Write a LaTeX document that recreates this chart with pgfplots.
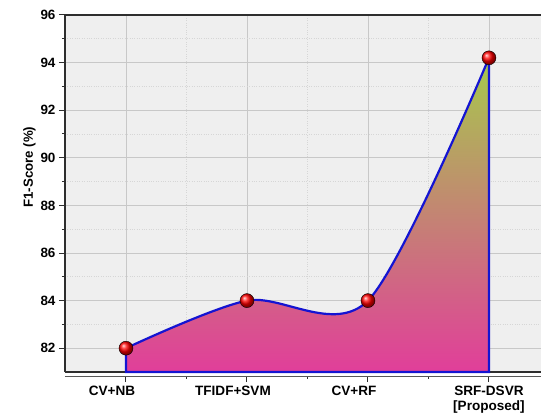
\documentclass[border=0pt]{standalone}
\usepackage{pgfplots}
\pgfplotsset{compat=1.18}
\usepackage{fontspec}
\setmainfont{Liberation Sans}
\definecolor{bgc}{HTML}{EFEFEF}
\definecolor{gridc}{HTML}{C8C8C8}
\definecolor{mgridc}{HTML}{D6D6D6}
\definecolor{linec}{HTML}{1414D2}
\definecolor{fbot}{HTML}{E13E9A}
\definecolor{fmid}{HTML}{CC7A8A}
\definecolor{ftop}{HTML}{A6CA4C}
\definecolor{axc}{HTML}{2E2E2E}
\begin{document}
\begin{tikzpicture}
\begin{axis}[
  scale only axis,
  width=476bp, height=357bp,
  xmin=-0.504, xmax=3.43,
  ymin=81, ymax=96,
  axis background/.style={fill=bgc},
  axis x line=box,
  axis y line*=left,
  xtick pos=bottom,
  ytick pos=left,
  axis line style={axc, line width=1.8pt},
  xtick={0,1,2,3},
  xticklabels={{CV+NB\hspace*{28bp}},{TFIDF+SVM\hspace*{28bp}},{CV+RF\hspace*{28bp}},{SRF-DSVR\\{}[Proposed]}},
  xticklabel style={align=center, font=\bfseries\fontsize{13.6}{15}\selectfont, yshift=-5bp},
  ytick={82,84,...,96},
  yticklabel style={font=\bfseries\fontsize{13.5}{14}\selectfont},
  /pgf/number format/assume math mode=true,
  minor x tick num=1,
  minor y tick num=1,
  tick align=outside,
  major tick length=6bp,
  minor tick length=3bp,
  tick style={axc, line width=1pt},
  xtick style={yshift=-4bp},
  grid=both,
  major grid style={gridc, line width=0.8pt},
  minor grid style={mgridc, dotted, line width=0.8pt},
  ylabel={F1-Score (\%)},
  ylabel style={font=\bfseries\fontsize{13.3}{14}\selectfont, at={(rel axis cs:0,0.574)}, anchor=center, yshift=35.5bp},
  clip=false,
]
\addplot[draw=linec, line width=2.2pt, smooth, tension=0.5,
  top color=ftop, middle color=fmid, bottom color=fbot]
  coordinates {(0,82) (1,84) (2,84) (3,94.2)} \closedcycle;
\addplot[only marks, mark=ball, mark size=7bp, ball color=red]
  coordinates {(0,82) (1,84) (2,84) (3,94.2)};
\draw[axc!80, line width=1.2pt] ([yshift=-4.5bp]rel axis cs:0,0) -- ([yshift=-4.5bp]rel axis cs:1,0);
\coordinate (TL) at (rel axis cs:0,1);
\coordinate (BR) at (rel axis cs:1,0);
\end{axis}
\pgfresetboundingbox
\useasboundingbox ([xshift=-65bp,yshift=15bp]TL) rectangle ([yshift=-47bp]BR);
\end{tikzpicture}
\end{document}
